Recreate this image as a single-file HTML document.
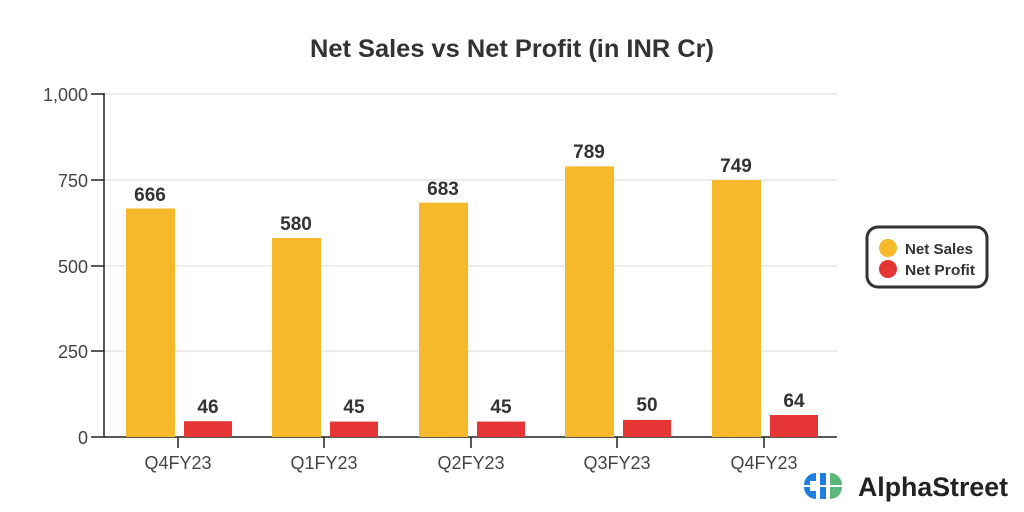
<!DOCTYPE html>
<html><head><style>body{margin:0;background:#fff}svg{display:block}</style></head><body>
<svg width="1024" height="512" xmlns="http://www.w3.org/2000/svg" font-family="'Liberation Sans', sans-serif">
<rect width="1024" height="512" fill="#fff"/>
<text x="512" y="57" text-anchor="middle" font-size="25" font-weight="bold" fill="#333" textLength="404" lengthAdjust="spacingAndGlyphs">Net Sales vs Net Profit (in INR Cr)</text>
<g stroke="#e6e6e6" stroke-width="1.5">
<line x1="104" y1="94" x2="837" y2="94"/><line x1="104" y1="180" x2="837" y2="180"/><line x1="104" y1="266" x2="837" y2="266"/><line x1="104" y1="351" x2="837" y2="351"/>
</g>
<g font-size="18" fill="#444" text-anchor="end">
<text x="88" y="101">1,000</text><text x="88" y="187">750</text><text x="88" y="273">500</text><text x="88" y="358">250</text><text x="88" y="444">0</text>
</g>
<g stroke="#222" stroke-width="1.5">
<line x1="104" y1="93" x2="104" y2="437"/><line x1="104" y1="437" x2="837" y2="437"/>
<line x1="91" y1="94" x2="104" y2="94"/><line x1="91" y1="180" x2="104" y2="180"/><line x1="91" y1="266" x2="104" y2="266"/><line x1="91" y1="351" x2="104" y2="351"/><line x1="91" y1="437" x2="104" y2="437"/>
<line x1="178" y1="437" x2="178" y2="448"/><line x1="324" y1="437" x2="324" y2="448"/><line x1="471" y1="437" x2="471" y2="448"/><line x1="617" y1="437" x2="617" y2="448"/><line x1="764" y1="437" x2="764" y2="448"/>
</g>
<g font-size="18" fill="#444" text-anchor="middle">
<text x="178" y="469">Q4FY23</text><text x="324" y="469">Q1FY23</text><text x="471" y="469">Q2FY23</text><text x="617" y="469">Q3FY23</text><text x="764" y="469">Q4FY23</text>
</g>
<g fill="#f6b92b">
<rect x="126" y="208.5" width="49" height="228.5"/>
<rect x="272" y="238" width="49" height="199"/>
<rect x="419" y="202.7" width="49" height="234.3"/>
<rect x="565" y="166.4" width="49" height="270.6"/>
<rect x="712" y="180.1" width="49" height="256.9"/>
</g>
<g fill="#e53535">
<rect x="184" y="421.2" width="48" height="15.8"/>
<rect x="330" y="421.6" width="48" height="15.4"/>
<rect x="477" y="421.6" width="48" height="15.4"/>
<rect x="623" y="419.9" width="48" height="17.1"/>
<rect x="770" y="415" width="48" height="22"/>
</g>
<g font-size="19" font-weight="bold" fill="#333" text-anchor="middle">
<text x="150" y="201">666</text><text x="296" y="230">580</text><text x="443" y="195">683</text><text x="589" y="158">789</text><text x="736" y="172">749</text>
<text x="208" y="413">46</text><text x="354" y="413">45</text><text x="501" y="413">45</text><text x="647" y="411">50</text><text x="794" y="407">64</text>
</g>
<rect x="867" y="227" width="120" height="60" rx="11" fill="#fff" stroke="#333" stroke-width="3"/>
<circle cx="888" cy="248" r="9" fill="#f6b92b"/>
<circle cx="888" cy="269" r="9" fill="#e53535"/>
<g font-size="15" font-weight="bold" fill="#333">
<text x="905" y="254" textLength="68" lengthAdjust="spacingAndGlyphs">Net Sales</text>
<text x="905" y="275" textLength="70" lengthAdjust="spacingAndGlyphs">Net Profit</text>
</g>
<g>
<path d="M804 485 a12 12 0 0 1 12 -12 v8 h-6 v4 z" fill="#1f7fe0"/>
<path d="M804 487 a12 12 0 0 0 12 12 v-8 h-6 v-4 z" fill="#1f7fe0"/>
<path d="M820 473 h6 v12 h-6 z" fill="#1f7fe0"/>
<path d="M820 487 h6 v12 h-6 z" fill="#1f7fe0"/>
<path d="M830 473 a12 12 0 0 1 12 12 h-12 z" fill="#5cb87a"/>
<path d="M830 487 h12 a12 12 0 0 1 -12 12 z" fill="#5cb87a"/>
</g>
<text x="858" y="496" font-size="27" font-weight="bold" fill="#222" textLength="150" lengthAdjust="spacingAndGlyphs">AlphaStreet</text>
</svg>
</body></html>
